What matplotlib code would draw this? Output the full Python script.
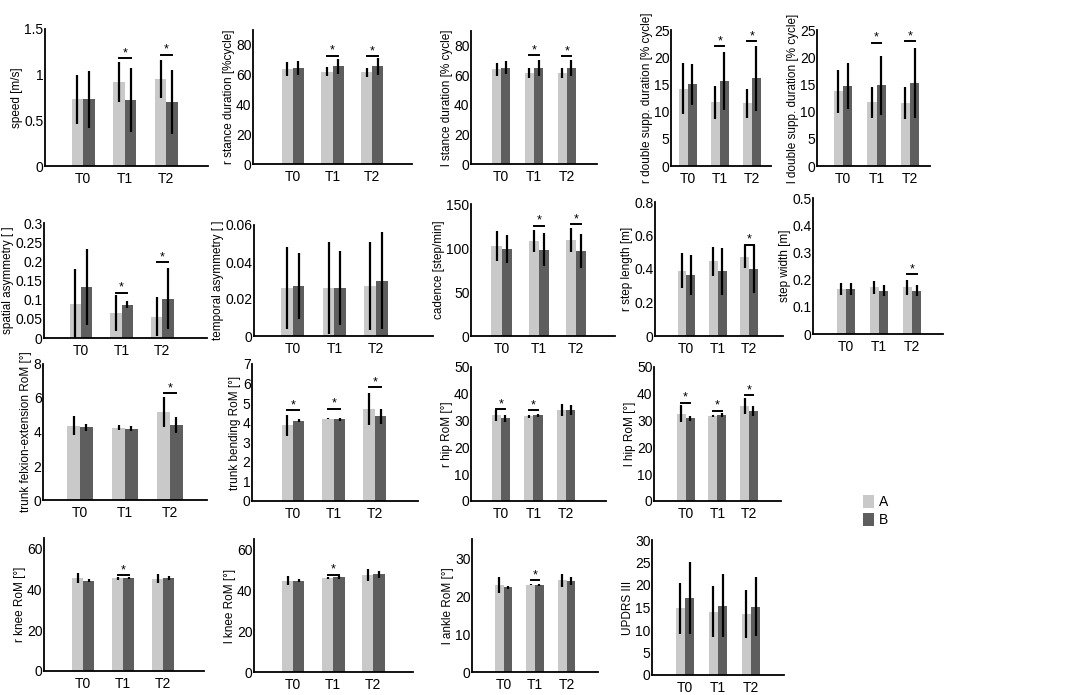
import matplotlib.pyplot as plt
import numpy as np

plt.rcParams['font.family'] = ['Liberation Sans', 'DejaVu Sans']

times = ['T0', 'T1', 'T2']
groups = ['A', 'B']

# --- values (mean, sd per time point) ---
speed_A, speed_A_sd = [0.73, 0.92, 0.95], [0.27, 0.22, 0.21]
speed_B, speed_B_sd = [0.73, 0.72, 0.70], [0.31, 0.35, 0.35]
speed_sig = {1: 1.18, 2: 1.22}

rstance_A, rstance_A_sd = [63.6, 62.0, 61.6], [4.7, 3.0, 3.2]
rstance_B, rstance_B_sd = [64.5, 65.6, 65.6], [4.5, 5.0, 5.6]
rstance_sig = {1: 72.8, 2: 72.3}

lstance_A, lstance_A_sd = [64.0, 61.6, 61.6], [4.2, 3.4, 3.4]
lstance_B, lstance_B_sd = [65.2, 65.2, 65.0], [4.3, 5.4, 5.6]
lstance_sig = {1: 73.5, 2: 73.0}

rdsupp_A, rdsupp_A_sd = [14.2, 11.7, 11.5], [4.7, 3.0, 2.7]
rdsupp_B, rdsupp_B_sd = [15.0, 15.6, 16.1], [3.8, 5.3, 5.9]
rdsupp_sig = {1: 22.0, 2: 22.9}

ldsupp_A, ldsupp_A_sd = [13.7, 11.7, 11.6], [4.0, 2.8, 3.0]
ldsupp_B, ldsupp_B_sd = [14.7, 14.8, 15.2], [4.3, 5.4, 6.4]
ldsupp_sig = {1: 22.7, 2: 22.9}

spasym_A, spasym_A_sd = [0.088, 0.066, 0.056], [0.092, 0.047, 0.050]
spasym_B, spasym_B_sd = [0.133, 0.087, 0.103], [0.100, 0.010, 0.080]
spasym_sig = {1: 0.118, 2: 0.197}

tmasym_A, tmasym_A_sd = [0.026, 0.026, 0.027], [0.022, 0.025, 0.024]
tmasym_B, tmasym_B_sd = [0.027, 0.026, 0.030], [0.018, 0.020, 0.026]
tmasym_sig = {}

cadence_A, cadence_A_sd = [102.6, 108.4, 109.0], [17.0, 12.5, 13.5]
cadence_B, cadence_B_sd = [99.0, 98.0, 96.6], [16.0, 19.0, 19.5]
cadence_sig = {1: 125.4, 2: 127.0}

rstep_A, rstep_A_sd = [0.39, 0.446, 0.473], [0.105, 0.085, 0.07]
rstep_B, rstep_B_sd = [0.366, 0.386, 0.398], [0.12, 0.14, 0.143]
rstep_sig = {2: 0.545}

stepw_A, stepw_A_sd = [0.165, 0.171, 0.171], [0.021, 0.025, 0.028]
stepw_B, stepw_B_sd = [0.165, 0.159, 0.159], [0.021, 0.021, 0.020]
stepw_sig = {2: 0.22}

trflex_A, trflex_A_sd = [4.36, 4.26, 5.19], [0.56, 0.13, 0.88]
trflex_B, trflex_B_sd = [4.28, 4.20, 4.40], [0.20, 0.13, 0.46]
trflex_sig = {2: 6.29}

trbend_A, trbend_A_sd = [3.86, 4.21, 4.71], [0.55, 0.04, 0.82]
trbend_B, trbend_B_sd = [4.11, 4.18, 4.32], [0.08, 0.07, 0.40]
trbend_sig = {0: 4.64, 1: 4.71, 2: 5.8}

rhip_A, rhip_A_sd = [32.0, 31.6, 33.9], [2.0, 0.5, 2.2]
rhip_B, rhip_B_sd = [30.8, 32.0, 33.9], [1.2, 0.6, 1.8]
rhip_sig = {0: 34.2, 1: 33.9}

lhip_A, lhip_A_sd = [32.6, 31.6, 35.4], [3.1, 0.4, 3.0]
lhip_B, lhip_B_sd = [30.8, 32.0, 33.5], [1.0, 0.7, 1.9]
lhip_sig = {0: 36.7, 1: 33.6, 2: 39.5}

rknee_A, rknee_A_sd = [45.5, 45.3, 45.0], [2.5, 0.6, 2.2]
rknee_B, rknee_B_sd = [44.2, 45.5, 45.5], [0.9, 0.5, 1.0]
rknee_sig = {1: 46.8}

lknee_A, lknee_A_sd = [44.7, 45.9, 47.5], [2.2, 0.4, 3.0]
lknee_B, lknee_B_sd = [44.7, 46.2, 47.8], [0.8, 0.7, 1.8]
lknee_sig = {1: 47.5}

lankle_A, lankle_A_sd = [22.9, 23.0, 24.2], [2.1, 0.2, 1.7]
lankle_B, lankle_B_sd = [22.3, 22.9, 23.9], [0.4, 0.3, 1.1]
lankle_sig = {1: 24.1}

updrs_A, updrs_A_sd = [14.8, 14.1, 13.6], [5.6, 5.6, 5.4]
updrs_B, updrs_B_sd = [17.2, 15.4, 15.2], [8.0, 7.0, 6.6]
updrs_sig = {}

# label, A, A sd, B, B sd, significance, ylim, yticks
panels = [
    ('speed [m/s]', speed_A, speed_A_sd, speed_B, speed_B_sd, speed_sig, 1.5, [0, 0.5, 1, 1.5]),
    ('r stance duration [%cycle]', rstance_A, rstance_A_sd, rstance_B, rstance_B_sd, rstance_sig, 90, [0, 20, 40, 60, 80]),
    ('l stance duration [% cycle]', lstance_A, lstance_A_sd, lstance_B, lstance_B_sd, lstance_sig, 90, [0, 20, 40, 60, 80]),
    ('r double supp. duration [% cycle]', rdsupp_A, rdsupp_A_sd, rdsupp_B, rdsupp_B_sd, rdsupp_sig, 25, [0, 5, 10, 15, 20, 25]),
    ('l double supp. duration [% cycle]', ldsupp_A, ldsupp_A_sd, ldsupp_B, ldsupp_B_sd, ldsupp_sig, 25, [0, 5, 10, 15, 20, 25]),
    ('spatial asymmetry [ ]', spasym_A, spasym_A_sd, spasym_B, spasym_B_sd, spasym_sig, 0.3, [0, 0.05, 0.1, 0.15, 0.2, 0.25, 0.3]),
    ('temporal asymmetry [ ]', tmasym_A, tmasym_A_sd, tmasym_B, tmasym_B_sd, tmasym_sig, 0.06, [0, 0.02, 0.04, 0.06]),
    ('cadence [step/min]', cadence_A, cadence_A_sd, cadence_B, cadence_B_sd, cadence_sig, 150, [0, 50, 100, 150]),
    ('r step length [m]', rstep_A, rstep_A_sd, rstep_B, rstep_B_sd, rstep_sig, 0.8, [0, 0.2, 0.4, 0.6, 0.8]),
    ('step width [m]', stepw_A, stepw_A_sd, stepw_B, stepw_B_sd, stepw_sig, 0.5, [0, 0.1, 0.2, 0.3, 0.4, 0.5]),
    ('trunk felxion-extension RoM [°]', trflex_A, trflex_A_sd, trflex_B, trflex_B_sd, trflex_sig, 8, [0, 2, 4, 6, 8]),
    ('trunk bending RoM [°]', trbend_A, trbend_A_sd, trbend_B, trbend_B_sd, trbend_sig, 7, [0, 1, 2, 3, 4, 5, 6, 7]),
    ('r hip RoM [°]', rhip_A, rhip_A_sd, rhip_B, rhip_B_sd, rhip_sig, 50, [0, 10, 20, 30, 40, 50]),
    ('l hip RoM [°]', lhip_A, lhip_A_sd, lhip_B, lhip_B_sd, lhip_sig, 50, [0, 10, 20, 30, 40, 50]),
    ('r knee RoM [°]', rknee_A, rknee_A_sd, rknee_B, rknee_B_sd, rknee_sig, 65, [0, 20, 40, 60]),
    ('l knee RoM [°]', lknee_A, lknee_A_sd, lknee_B, lknee_B_sd, lknee_sig, 65, [0, 20, 40, 60]),
    ('l ankle RoM [°]', lankle_A, lankle_A_sd, lankle_B, lankle_B_sd, lankle_sig, 35, [0, 10, 20, 30]),
    ('UPDRS III', updrs_A, updrs_A_sd, updrs_B, updrs_B_sd, updrs_sig, 30, [0, 5, 10, 15, 20, 25, 30]),
]

# axes boxes in pixels: left, right, top, bottom ; and x range
boxes = [
    (45, 208, 29, 166, (0.08, 4.0)), (253, 412, 30, 164, (0.0, 4.0)),
    (471, 597, 31, 164, (0.08, 3.92)), (671, 771, 30, 166, (0.48, 3.6)),
    (817, 930, 30, 166, (0.22, 3.6)),
    (44, 207, 223, 338, (0.09, 4.1)), (254, 433, 225, 336, (0.07, 4.37)),
    (471, 615, 204, 336, (0.17, 4.05)), (655, 783, 202, 336, (0.0, 4.08)),
    (813, 943, 198, 334, (0.0, 3.94)),
    (43, 207, 364, 500, (0.18, 3.82)), (252, 418, 364, 501, (0.0, 4.05)),
    (471, 606, 367, 501, (0.09, 4.22)), (654, 781, 367, 501, (0.0, 4.01)),
    (44, 204, 538, 671, (0.02, 4.02)), (254, 413, 539, 672, (0.02, 3.99)),
    (472, 598, 539, 672, (0.0, 4.0)), (652, 784, 540, 675, (0.0, 4.0)),
]

W, H = 1084, 695
col_a = '#c9c9c9'
col_b = '#5e5e5e'
bw = 0.28

fig = plt.figure(figsize=(W / 100, H / 100), dpi=100)

x = np.arange(1, len(times) + 1)
for (label, a, a_sd, b, b_sd, sig, ytop, yt), (l, r, t, btm, xl) in zip(panels, boxes):
    ax = fig.add_axes([l / W, 1 - btm / H, (r - l) / W, (btm - t) / H])
    ha = ax.bar(x - bw / 2, a, bw, color=col_a, label='A')
    hb = ax.bar(x + bw / 2, b, bw, color=col_b, label='B')
    ax.errorbar(x - bw / 2, a, yerr=a_sd, fmt='none', ecolor='k', elinewidth=1.6, capsize=0)
    ax.errorbar(x + bw / 2, b, yerr=b_sd, fmt='none', ecolor='k', elinewidth=1.6, capsize=0)
    # significance bracket + star just above it
    for i, h in sig.items():
        ax.plot([x[i] - bw / 2, x[i] + bw / 2], [h, h], color='k', lw=1.4)
        ax.annotate('*', (x[i], h), xytext=(0, 1.5), textcoords='offset points',
                    ha='center', va='baseline', fontsize=9)
    ax.set_xlim(*xl)
    ax.set_ylim(0, ytop)
    ax.set_xticks(x)
    ax.set_xticklabels(times)
    ax.set_yticks(yt)
    ax.set_yticklabels(['%g' % v for v in yt])
    ax.tick_params(length=0, labelsize=10, pad=4)
    ax.tick_params(axis='y', pad=1)
    ax.set_ylabel(label, fontsize=8.5, labelpad=1)
    for s in ['top', 'right']:
        ax.spines[s].set_visible(False)
    for s in ['left', 'bottom']:
        ax.spines[s].set_linewidth(1.3)

fig.legend([ha, hb], groups, loc='upper left', bbox_to_anchor=(850 / W, 1 - 482 / H),
           frameon=False, fontsize=10, handlelength=0.8, handleheight=1.1,
           handletextpad=0.4, labelspacing=0.3)

fig.savefig('out.png', dpi=100)
